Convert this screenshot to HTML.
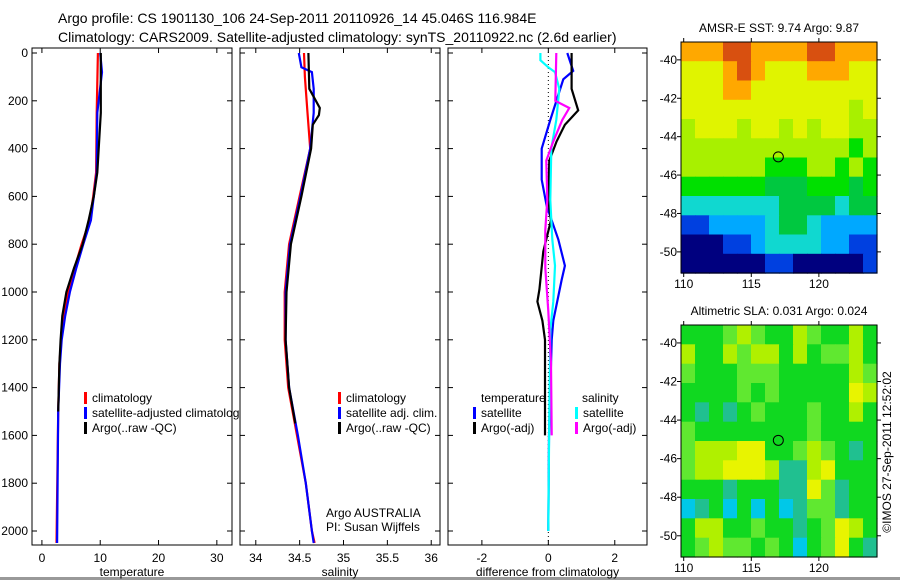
<!DOCTYPE html>
<html><head><meta charset="utf-8"><style>
body{margin:0;background:#fff;}
svg{display:block;font-family:"Liberation Sans",sans-serif;}
text{fill:#000;}
</style></head><body>
<svg id="fig" width="900" height="580" viewBox="0 0 900 580">
<rect x="0" y="0" width="900" height="580" fill="#fff"/>
<text x="58" y="23" font-size="14">Argo profile: CS 1901130_106 24-Sep-2011 20110926_14 45.046S 116.984E</text>
<text x="58" y="42" font-size="14">Climatology: CARS2009. Satellite-adjusted climatology: synTS_20110922.nc (2.6d earlier)</text>
<rect x="0" y="577" width="900" height="3" fill="#999"/>
<g id="g"></g>
</svg>
<script>
// ---- data ----
const depthTicks=[0,200,400,600,800,1000,1200,1400,1600,1800,2000];
const tempTicks=[0,10,20,30];
const salTicks=[34,34.5,35,35.5,36];
const diffTicks=[-2,0,2];
const tClimD=[0,250,500,600,700,800,900,1000,1100,1200,1300,1500,2050];
const tClimV=[9.6,9.4,9.3,8.8,8.2,6.8,5.6,4.5,3.8,3.3,3.0,2.8,2.5];
const tSatD=[0,80,250,500,600,700,800,900,1000,1100,1200,1300,1500,2050];
const tSatV=[10.0,10.3,9.5,9.4,8.9,8.4,7.1,5.9,4.8,4.0,3.4,3.1,2.8,2.6];
const tArgoD=[0,250,500,600,700,800,900,1000,1100,1200,1300,1400,1500];
const tArgoV=[10.1,10.1,9.5,8.9,8.0,7.0,5.5,4.2,3.5,3.2,3.0,2.9,2.8];
const sClimD=[0,100,250,400,600,800,1000,1200,1400,1600,1800,2000,2050];
const sClimV=[34.55,34.56,34.59,34.62,34.50,34.38,34.33,34.33,34.37,34.47,34.57,34.64,34.67];
const sSatD=[0,60,80,150,250,400,600,800,1000,1200,1400,1600,1800,2000,2050];
const sSatV=[34.49,34.52,34.64,34.66,34.66,34.62,34.51,34.39,34.34,34.34,34.38,34.48,34.57,34.64,34.66];
const sArgoD=[0,150,230,260,300,400,600,800,1000,1200,1400,1550];
const sArgoV=[34.6,34.61,34.73,34.72,34.65,34.63,34.52,34.40,34.35,34.34,34.38,34.45];
const dTSatD=[0,75,110,280,400,530,640,780,890,950,1120,1200,1600,2000];
const dTSatV=[0.57,0.75,0.45,0.06,-0.2,-0.2,-0.05,0.3,0.5,0.4,0.15,0.1,0.02,0.0];
const dTArgoD=[0,150,240,300,370,450,615,700,830,990,1040,1120,1200,1600];
const dTArgoV=[0.7,0.7,0.9,0.5,0.25,0.03,0.0,0.08,-0.15,-0.27,-0.33,-0.18,-0.1,-0.1];
const dSSatD=[0,30,60,80,150,280,400,615,780,890,1040,1160,1500,2000];
const dSSatV=[-0.24,-0.24,0.0,0.2,0.33,0.24,0.09,0.06,0.12,0.2,0.15,0.06,0.03,0.0];
const dSArgoD=[0,200,230,280,370,450,615,740,900,1080,1300,1600];
const dSArgoV=[0.24,0.21,0.63,0.42,0.15,-0.06,-0.03,-0.09,-0.09,0.0,0.08,0.1];
const sstRows=["88899888899888","77789877788877","77788777777777","77777777777767","67776776767766","66666666666656","66666655566565","55555544455545","33333334444344","11222234432222","00011233332211","00000011000001"];
const slaRows=["44456544654464","64465664645564","54445554444465","44445454444476","43434544454464","54444444454444","56667744565434","56677763367444","44434443375344","23424242355344","46644544345764","45655454245743"];
const lonTicks=[110,115,120];
const latTicks=[-40,-42,-44,-46,-48,-50];
const argoPos=[117,-45.05];
// ---- drawing ----
const NS="http://www.w3.org/2000/svg";const G=document.getElementById('g');
function mk(tag,a,name,parent){const e=document.createElementNS(NS,tag);for(const k in a)e.setAttribute(k,a[k]);


(parent||G).appendChild(e);return e;}
function txt(x,y,s,name,anchor,fs){const t=mk('text',{x:x,y:y,'font-size':fs||12,'text-anchor':anchor||'start'},name);t.textContent=s;return t;}
const Y0=48,Y1=545;const dy=d=>53+(d)*(531-53)/2000;
function panel(x0,x1,vmin,vmax,ticks,label,name,ylabels){
  const sx=v=>x0+(v-vmin)/(vmax-vmin)*(x1-x0);
  mk('rect',{x:x0,y:Y0,width:x1-x0,height:Y1-Y0,fill:'#fff',stroke:'#000','stroke-width':1},name+'-frame');
  ticks.forEach(v=>{const x=sx(v);mk('line',{x1:x,x2:x,y1:Y1,y2:Y1-5,stroke:'#000'},name+'-xtick');mk('line',{x1:x,x2:x,y1:Y0,y2:Y0+5,stroke:'#000'},name+'-xtick-top');
    txt(x,562,String(v),name+'-xtick-label','middle');});
  depthTicks.forEach(d=>{const y=dy(d);mk('line',{x1:x0,x2:x0+5,y1:y,y2:y,stroke:'#000'},name+'-ytick');mk('line',{x1:x1,x2:x1-5,y1:y,y2:y,stroke:'#000'},name+'-ytick-right');
    if(ylabels)txt(x0-4,y+4,String(d),'depth-tick-label','end');});
  txt((x0+x1)/2,576,label,name+'-axis-title','middle');
  return sx;}
function line(sx,D,V,col,name,w){mk('polyline',{points:D.map((d,i)=>sx(V[i]).toFixed(1)+','+dy(d).toFixed(1)).join(' '),fill:'none',stroke:col,'stroke-width':w||2.2},name);}
function leg(x,y,col,s,name){mk('rect',{x:x,y:y-10,width:3,height:12,fill:col},name+'-swatch');txt(x+8,y,s,name);}
// temperature
let sx=panel(32,232,-1.7,32.6,tempTicks,'temperature','temperature-panel',true);
line(sx,tClimD,tClimV,'#f00','temp-climatology-line');line(sx,tSatD,tSatV,'#00f','temp-satellite-line');line(sx,tArgoD,tArgoV,'#000','temp-argo-line');
leg(84,402,'#f00','climatology','legend-climatology');leg(84,417,'#00f','satellite-adjusted climatology','legend-satellite');leg(84,432,'#000','Argo(..raw -QC)','legend-argo');
// salinity
sx=panel(240,440,33.82,36.1,salTicks,'salinity','salinity-panel',false);
line(sx,sClimD,sClimV,'#f00','sal-climatology-line');line(sx,sSatD,sSatV,'#00f','sal-satellite-line');line(sx,sArgoD,sArgoV,'#000','sal-argo-line');
leg(338,402,'#f00','climatology','sal-legend-climatology');leg(338,417,'#00f','satellite adj. clim.','sal-legend-satellite');leg(338,432,'#000','Argo(..raw -QC)','sal-legend-argo');
txt(326,517,'Argo AUSTRALIA','argo-australia-label');txt(326,531,'PI: Susan Wijffels','pi-label');
// diff
sx=panel(448,647,-3.02,2.97,diffTicks,'difference from climatology','difference-panel',false);
mk('line',{x1:sx(0),x2:sx(0),y1:Y0,y2:Y1,stroke:'#000','stroke-dasharray':'1,3'},'zero-line');
line(sx,dTSatD,dTSatV,'#00f','diff-temp-satellite-line');line(sx,dTArgoD,dTArgoV,'#000','diff-temp-argo-line');
line(sx,dSSatD,dSSatV,'#0ff','diff-sal-satellite-line');line(sx,dSArgoD,dSArgoV,'#f0f','diff-sal-argo-line');
txt(481,402,'temperature','legend-temperature-header');leg(473,417,'#00f','satellite','diff-legend-temp-sat');leg(473,432,'#000','Argo(-adj)','diff-legend-temp-argo');
txt(582,402,'salinity','legend-salinity-header');leg(575,417,'#0ff','satellite','diff-legend-sal-sat');leg(575,432,'#f0f','Argo(-adj)','diff-legend-sal-argo');
// maps
const sstPal={0:'#00007f',1:'#0040e0',2:'#00a8ff',3:'#10d8d0',4:'#00c840',5:'#00e000',6:'#a8f000',7:'#e0f400',8:'#ffa800',9:'#d85010'};
const slaPal={2:'#00c8e8',3:'#20c090',4:'#10d820',5:'#60e830',6:'#b0f000',7:'#e8f400'};
function map(y0,y1,rows,pal,title,name){
  const x0=681,x1=877,lon0=109.8,lon1=124.3,la0=-39.07,la1=-51.1;
  const mx=v=>x0+(v-lon0)/(lon1-lon0)*(x1-x0);const my=v=>y0+(v-la0)/(la1-la0)*(y1-y0);
  const nr=rows.length,nc=rows[0].length;
  rows.forEach((r,i)=>{for(let j=0;j<nc;j++){
    const lx=lon0+j*(lon1-lon0)/nc,ly=la0+i*(la1-la0)/nr;
    mk('rect',{x:mx(lx).toFixed(1),y:my(ly).toFixed(1),width:((x1-x0)/nc+0.6).toFixed(1),height:((y1-y0)/nr+0.6).toFixed(1),fill:pal[r[j]]},name+'-cell');}});
  mk('rect',{x:x0,y:y0,width:x1-x0,height:y1-y0,fill:'none',stroke:'#000'},name+'-frame');
  lonTicks.forEach(v=>{mk('line',{x1:mx(v),x2:mx(v),y1:y1,y2:y1+4,stroke:'#000'},name+'-xtick');mk('line',{x1:mx(v),x2:mx(v),y1:y0,y2:y0-4,stroke:'#000'},name+'-xtick-top');txt(mx(v),y1+15,String(v),name+'-lon-label','middle');});
  latTicks.forEach(v=>{mk('line',{x1:x0,x2:x0-4,y1:my(v),y2:my(v),stroke:'#000'},name+'-ytick');mk('line',{x1:x1,x2:x1+4,y1:my(v),y2:my(v),stroke:'#000'},name+'-ytick-right');txt(x0-4,my(v)+4,String(v),name+'-lat-label','end');});
  mk('circle',{cx:mx(argoPos[0]),cy:my(argoPos[1]),r:5,fill:'none',stroke:'#000','stroke-width':1},name+'-argo-marker');
  txt((x0+x1)/2,y0-10,title,name+'-title','middle');}
map(42,273,sstRows,sstPal,'AMSR-E SST: 9.74  Argo: 9.87','sst-map');
map(325,557,slaRows,slaPal,'Altimetric SLA: 0.031  Argo: 0.024','sla-map');
const c=txt(0,0,'©IMOS 27-Sep-2011 12:52:02','imos-credit','middle');c.setAttribute('transform','translate(891,452) rotate(-90)');
</script>
</body></html>
